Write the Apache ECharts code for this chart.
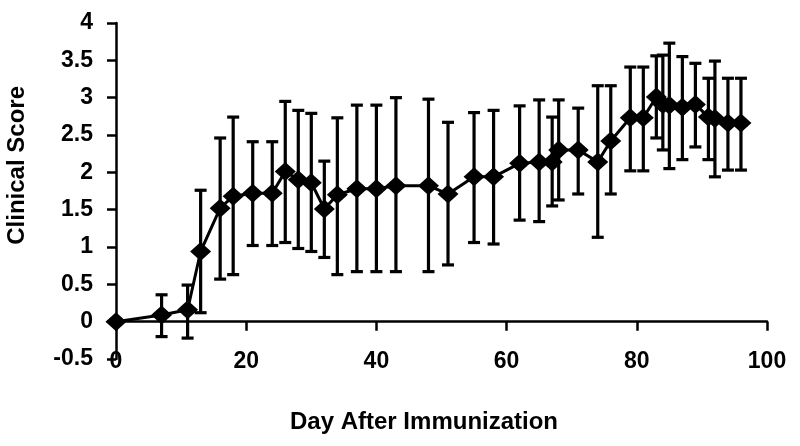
<!DOCTYPE html>
<html>
<head>
<meta charset="utf-8">
<script src="https://cdn.jsdelivr.net/npm/echarts@6/dist/echarts.min.js"></script>
<style>
  html, body { margin: 0; padding: 0; background: #fff; }
  #chart { width: 800px; height: 446px; }
</style>
</head>
<body>
<div id="chart"></div>
<script>
  // days after immunization
  var days = [0, 7, 11, 13, 16, 18, 21, 24, 26, 28, 30, 32, 34, 37, 40, 43, 48, 51, 55, 58,
              62, 65, 67, 68, 71, 74, 76, 79, 81, 83, 84, 85, 87, 89, 91, 92, 94, 96];
  // mean clinical score
  var meanScore = [0, 0.09, 0.16, 0.94, 1.52, 1.68, 1.72, 1.72, 2.01, 1.90, 1.86, 1.51, 1.70, 1.78, 1.78, 1.82, 1.82, 1.71, 1.94, 1.94,
                   2.12, 2.14, 2.14, 2.30, 2.30, 2.14, 2.42, 2.73, 2.73, 3.01, 2.91, 2.90, 2.87, 2.91, 2.74, 2.72, 2.66, 2.66];
  // error bar ends
  var errHigh = [0, 0.36, 0.49, 1.76, 2.46, 2.74, 2.41, 2.41, 2.95, 2.83, 2.79, 2.15, 2.73, 2.90, 2.90, 3.00, 2.98, 2.67, 2.80, 2.83,
                 2.89, 2.97, 2.74, 2.97, 2.86, 3.16, 3.16, 3.41, 3.41, 3.56, 3.57, 3.73, 3.55, 3.46, 3.26, 3.49, 3.26, 3.26];
  var errLow = [0, -0.20, -0.22, 0.12, 0.57, 0.63, 1.02, 1.02, 1.06, 0.98, 0.94, 0.86, 0.63, 0.67, 0.67, 0.67, 0.67, 0.76, 1.06, 1.04,
                1.36, 1.34, 1.55, 1.63, 1.71, 1.13, 1.71, 2.02, 2.02, 2.46, 2.30, 2.05, 2.17, 2.34, 2.17, 1.94, 2.03, 2.03];

  var font = '"Liberation Sans", Arial, sans-serif';

  var lineData = days.map(function (d, i) { return [d, meanScore[i]]; });
  var errData = days.map(function (d, i) { return [d, errHigh[i], errLow[i]]; });

  var option = {
    backgroundColor: '#fff',
    animation: false,
    grid: { left: 116, top: 23, width: 651, height: 336, containLabel: false },
    // 轴标题
    graphic: [
      {
        type: 'text', left: 5, top: 86, rotation: Math.PI / 2,
        style: { text: 'Clinical Score', font: 'bold 24px ' + font, fill: '#000' }
      },
      {
        type: 'text', left: 290, top: 410,
        style: { text: 'Day After Immunization', font: 'bold 24px ' + font, fill: '#000' }
      }
    ],
    xAxis: [
      {
        // 在0处的轴线
        type: 'value', min: 0, max: 100, interval: 20,
        axisLine: { onZero: true, lineStyle: { color: '#000', width: 2.5 } },
        axisTick: { show: true, length: 9, lineStyle: { color: '#000', width: 2.5 } },
        axisLabel: { show: false },
        splitLine: { show: false }
      },
      {
        // 底部的刻度文字
        type: 'value', min: 0, max: 100, interval: 20, position: 'bottom',
        axisLine: { show: false, onZero: false },
        axisTick: { show: false },
        axisLabel: { show: true, margin: -9, color: '#000', fontWeight: 'bold', fontSize: 23, fontFamily: font },
        splitLine: { show: false }
      }
    ],
    yAxis: {
      type: 'value', min: -0.5, max: 4, interval: 0.5,
      axisLine: { show: true, lineStyle: { color: '#000', width: 2.5 } },
      axisTick: { show: true, length: 9, lineStyle: { color: '#000', width: 2.5 } },
      axisLabel: { margin: 23, color: '#000', fontWeight: 'bold', fontSize: 23, fontFamily: font },
      splitLine: { show: false }
    },
    series: [
      {
        type: 'custom',
        xAxisIndex: 0,
        data: errData,
        encode: { x: 0, y: [1, 2] },
        renderItem: function (params, api) {
          var x = api.value(0);
          var top = api.coord([x, api.value(1)]);
          var bot = api.coord([x, api.value(2)]);
          var hw = 6;
          var st = { stroke: '#000', lineWidth: 3.2 };
          return {
            type: 'group',
            children: [
              { type: 'line', shape: { x1: top[0], y1: top[1], x2: bot[0], y2: bot[1] }, style: st },
              { type: 'line', shape: { x1: top[0] - hw, y1: top[1], x2: top[0] + hw, y2: top[1] }, style: st },
              { type: 'line', shape: { x1: bot[0] - hw, y1: bot[1], x2: bot[0] + hw, y2: bot[1] }, style: st }
            ]
          };
        }
      },
      {
        type: 'line',
        xAxisIndex: 0,
        data: lineData,
        symbol: 'diamond',
        symbolSize: [21, 19],
        lineStyle: { color: '#000', width: 3 },
        itemStyle: { color: '#000' }
      }
    ]
  };

  var myChart = echarts.init(document.getElementById('chart'));
  myChart.setOption(option);
</script>
</body>
</html>
